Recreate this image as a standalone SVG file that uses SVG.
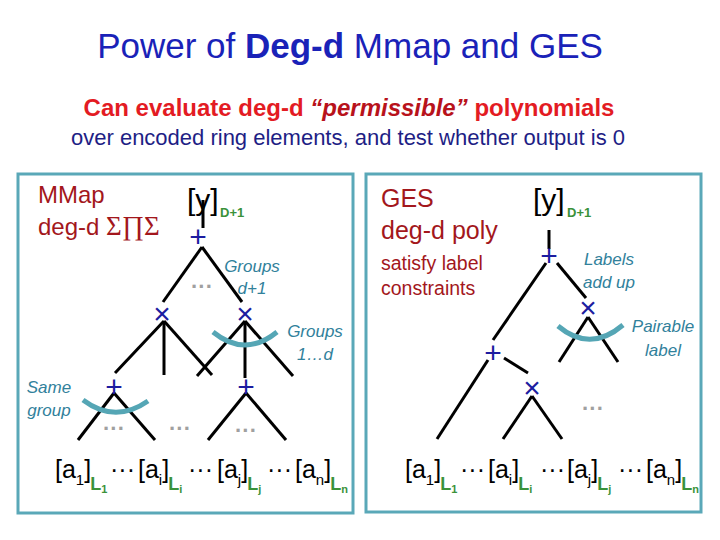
<svg xmlns="http://www.w3.org/2000/svg" width="720" height="540" viewBox="0 0 720 540">
<style>
text{font-family:"Liberation Sans",Arial,sans-serif}
.box{fill:none;stroke:#5aa8b8;stroke-width:3}
.edge{stroke:#000;stroke-width:3;fill:none;stroke-linecap:butt}
.arc{stroke:#55a6b5;stroke-width:5;fill:none}
.op{font-size:30px;fill:#1c1ca0;text-anchor:middle}
.note{font-size:17px;font-style:italic;fill:#31819b;text-anchor:middle}
.dr{fill:#a3171c}
.dots{font-size:22px;font-weight:bold;fill:#a0a0a0;text-anchor:middle}
.grn{fill:#3a923a;font-weight:bold}
.m{font-size:25px;fill:#000}
.s{font-size:15px}
.L{font-size:18px}
.ls{font-size:11px}
</style>
<rect width="720" height="540" fill="#fff"/>
<g id="title">
<text x="350" y="58" font-size="35" fill="#1a22b8" text-anchor="middle">Power of <tspan font-weight="bold">Deg-d</tspan> Mmap and GES</text>
<text x="349" y="116" font-size="24" font-weight="bold" fill="#e31b23" text-anchor="middle">Can evaluate deg-d <tspan fill="#b8121b" font-style="italic">“permissible”</tspan> polynomials</text>
<text x="348" y="145" font-size="22" fill="#1e1e85" text-anchor="middle">over encoded ring elements, and test whether output is 0</text>
</g>
<rect class="box" x="18" y="174" width="335" height="339"/>
<rect class="box" x="366" y="174" width="335" height="338"/>
<g id="connectors">
<line class="edge" x1="203" y1="200" x2="203" y2="228"/>
<line class="edge" x1="202" y1="247" x2="163" y2="302"/>
<line class="edge" x1="202" y1="247" x2="242" y2="302"/>
<line class="edge" x1="164" y1="321" x2="115" y2="373"/>
<line class="edge" x1="164" y1="321" x2="164" y2="375"/>
<line class="edge" x1="164" y1="321" x2="212" y2="375"/>
<line class="edge" x1="245" y1="321" x2="197" y2="376"/>
<line class="edge" x1="245" y1="321" x2="245" y2="378"/>
<line class="edge" x1="245" y1="321" x2="293" y2="376"/>
<line class="edge" x1="114" y1="393" x2="78" y2="440"/>
<line class="edge" x1="114" y1="393" x2="155" y2="440"/>
<line class="edge" x1="246" y1="393" x2="208" y2="440"/>
<line class="edge" x1="246" y1="393" x2="286" y2="440"/>
<path class="arc" d="M83,400 Q115,424 148,401"/>
<path class="arc" d="M213,332 Q245,358 277,332"/>
<line class="edge" x1="549" y1="230" x2="549" y2="249"/>
<line class="edge" x1="546" y1="263" x2="493" y2="340"/>
<line class="edge" x1="557" y1="263" x2="586" y2="298"/>
<line class="edge" x1="588" y1="317" x2="559" y2="362"/>
<line class="edge" x1="588" y1="317" x2="618" y2="362"/>
<line class="edge" x1="488" y1="360" x2="437" y2="439"/>
<line class="edge" x1="504" y1="358" x2="528" y2="373"/>
<line class="edge" x1="532" y1="396" x2="503" y2="439"/>
<line class="edge" x1="532" y1="396" x2="562" y2="439"/>
<path class="arc" d="M558,326 Q590,353 623,325"/>
</g>
<g id="left-header">
<text class="dr" x="38" y="203" font-size="24">MMap</text>
<text class="dr" x="38" y="235" font-size="24">deg-d <tspan font-family="'Liberation Serif','DejaVu Serif',serif" font-size="27">Σ∏Σ</tspan></text>
</g>
<g id="left-root">
<text x="187" y="210" font-size="30">[y]</text>
<text class="grn" x="220" y="217" font-size="13">D+1</text>
<text class="op" x="198" y="247">+</text>
</g>
<g id="left-mult1"><text class="op" x="162" y="324">×</text></g>
<g id="left-mult2"><text class="op" x="245" y="324">×</text></g>
<g id="left-add1"><text class="op" x="114" y="397">+</text></g>
<g id="left-add2"><text class="op" x="246" y="397">+</text></g>
<g id="left-notes">
<text class="note" x="252" y="272">Groups</text>
<text class="note" x="252" y="294">d+1</text>
<text class="note" x="315" y="337">Groups</text>
<text class="note" x="315" y="360">1…d</text>
<text class="note" x="49" y="393">Same</text>
<text class="note" x="49" y="416">group</text>
<text class="dots" x="202" y="294">···</text>
<text class="dots" x="114" y="436">···</text>
<text class="dots" x="180" y="436">···</text>
<text class="dots" x="246" y="438">···</text>
</g>
<g id="left-leaves">
<text class="m" x="55" y="478">[a<tspan class="s" dy="7">1</tspan><tspan dy="-7">]</tspan><tspan class="grn L" dx="-1" dy="12">L</tspan><tspan class="grn ls" dy="3">1</tspan></text>
<text class="m" x="110" y="478">···</text>
<text class="m" x="138" y="478">[a<tspan class="s" dy="7">i</tspan><tspan dy="-7">]</tspan><tspan class="grn L" dx="-1" dy="12">L</tspan><tspan class="grn ls" dy="3">i</tspan></text>
<text class="m" x="188" y="478">···</text>
<text class="m" x="217" y="478">[a<tspan class="s" dy="7">j</tspan><tspan dy="-7">]</tspan><tspan class="grn L" dx="-1" dy="12">L</tspan><tspan class="grn ls" dy="3">j</tspan></text>
<text class="m" x="267" y="478">···</text>
<text class="m" x="295" y="478">[a<tspan class="s" dy="7">n</tspan><tspan dy="-7">]</tspan><tspan class="grn L" dx="-1" dy="12">L</tspan><tspan class="grn ls" dy="3">n</tspan></text>
</g>
<g id="right-header">
<text class="dr" x="381" y="207" font-size="25">GES</text>
<text class="dr" x="381" y="239" font-size="25">deg-d poly</text>
<text class="dr" x="381" y="270" font-size="19.5">satisfy label</text>
<text class="dr" x="381" y="295" font-size="19.5">constraints</text>
</g>
<g id="right-root">
<text x="533" y="210" font-size="30">[y]</text>
<text class="grn" x="567" y="217" font-size="13">D+1</text>
<text class="op" x="549" y="266">+</text>
</g>
<g id="right-mult1"><text class="op" x="588" y="318">×</text></g>
<g id="right-add"><text class="op" x="493" y="363">+</text></g>
<g id="right-mult2"><text class="op" x="532" y="398">×</text></g>
<g id="right-notes">
<text class="note" x="609" y="265">Labels</text>
<text class="note" x="609" y="288">add up</text>
<text class="note" x="663" y="332">Pairable</text>
<text class="note" x="663" y="356">label</text>
<text class="dots" x="593" y="416">···</text>
</g>
<g id="right-leaves">
<text class="m" x="405" y="478">[a<tspan class="s" dy="7">1</tspan><tspan dy="-7">]</tspan><tspan class="grn L" dx="-1" dy="12">L</tspan><tspan class="grn ls" dy="3">1</tspan></text>
<text class="m" x="460" y="478">···</text>
<text class="m" x="488" y="478">[a<tspan class="s" dy="7">i</tspan><tspan dy="-7">]</tspan><tspan class="grn L" dx="-1" dy="12">L</tspan><tspan class="grn ls" dy="3">i</tspan></text>
<text class="m" x="540" y="478">···</text>
<text class="m" x="567" y="478">[a<tspan class="s" dy="7">j</tspan><tspan dy="-7">]</tspan><tspan class="grn L" dx="-1" dy="12">L</tspan><tspan class="grn ls" dy="3">j</tspan></text>
<text class="m" x="618" y="478">···</text>
<text class="m" x="646" y="478">[a<tspan class="s" dy="7">n</tspan><tspan dy="-7">]</tspan><tspan class="grn L" dx="-1" dy="12">L</tspan><tspan class="grn ls" dy="3">n</tspan></text>
</g>
</svg>
